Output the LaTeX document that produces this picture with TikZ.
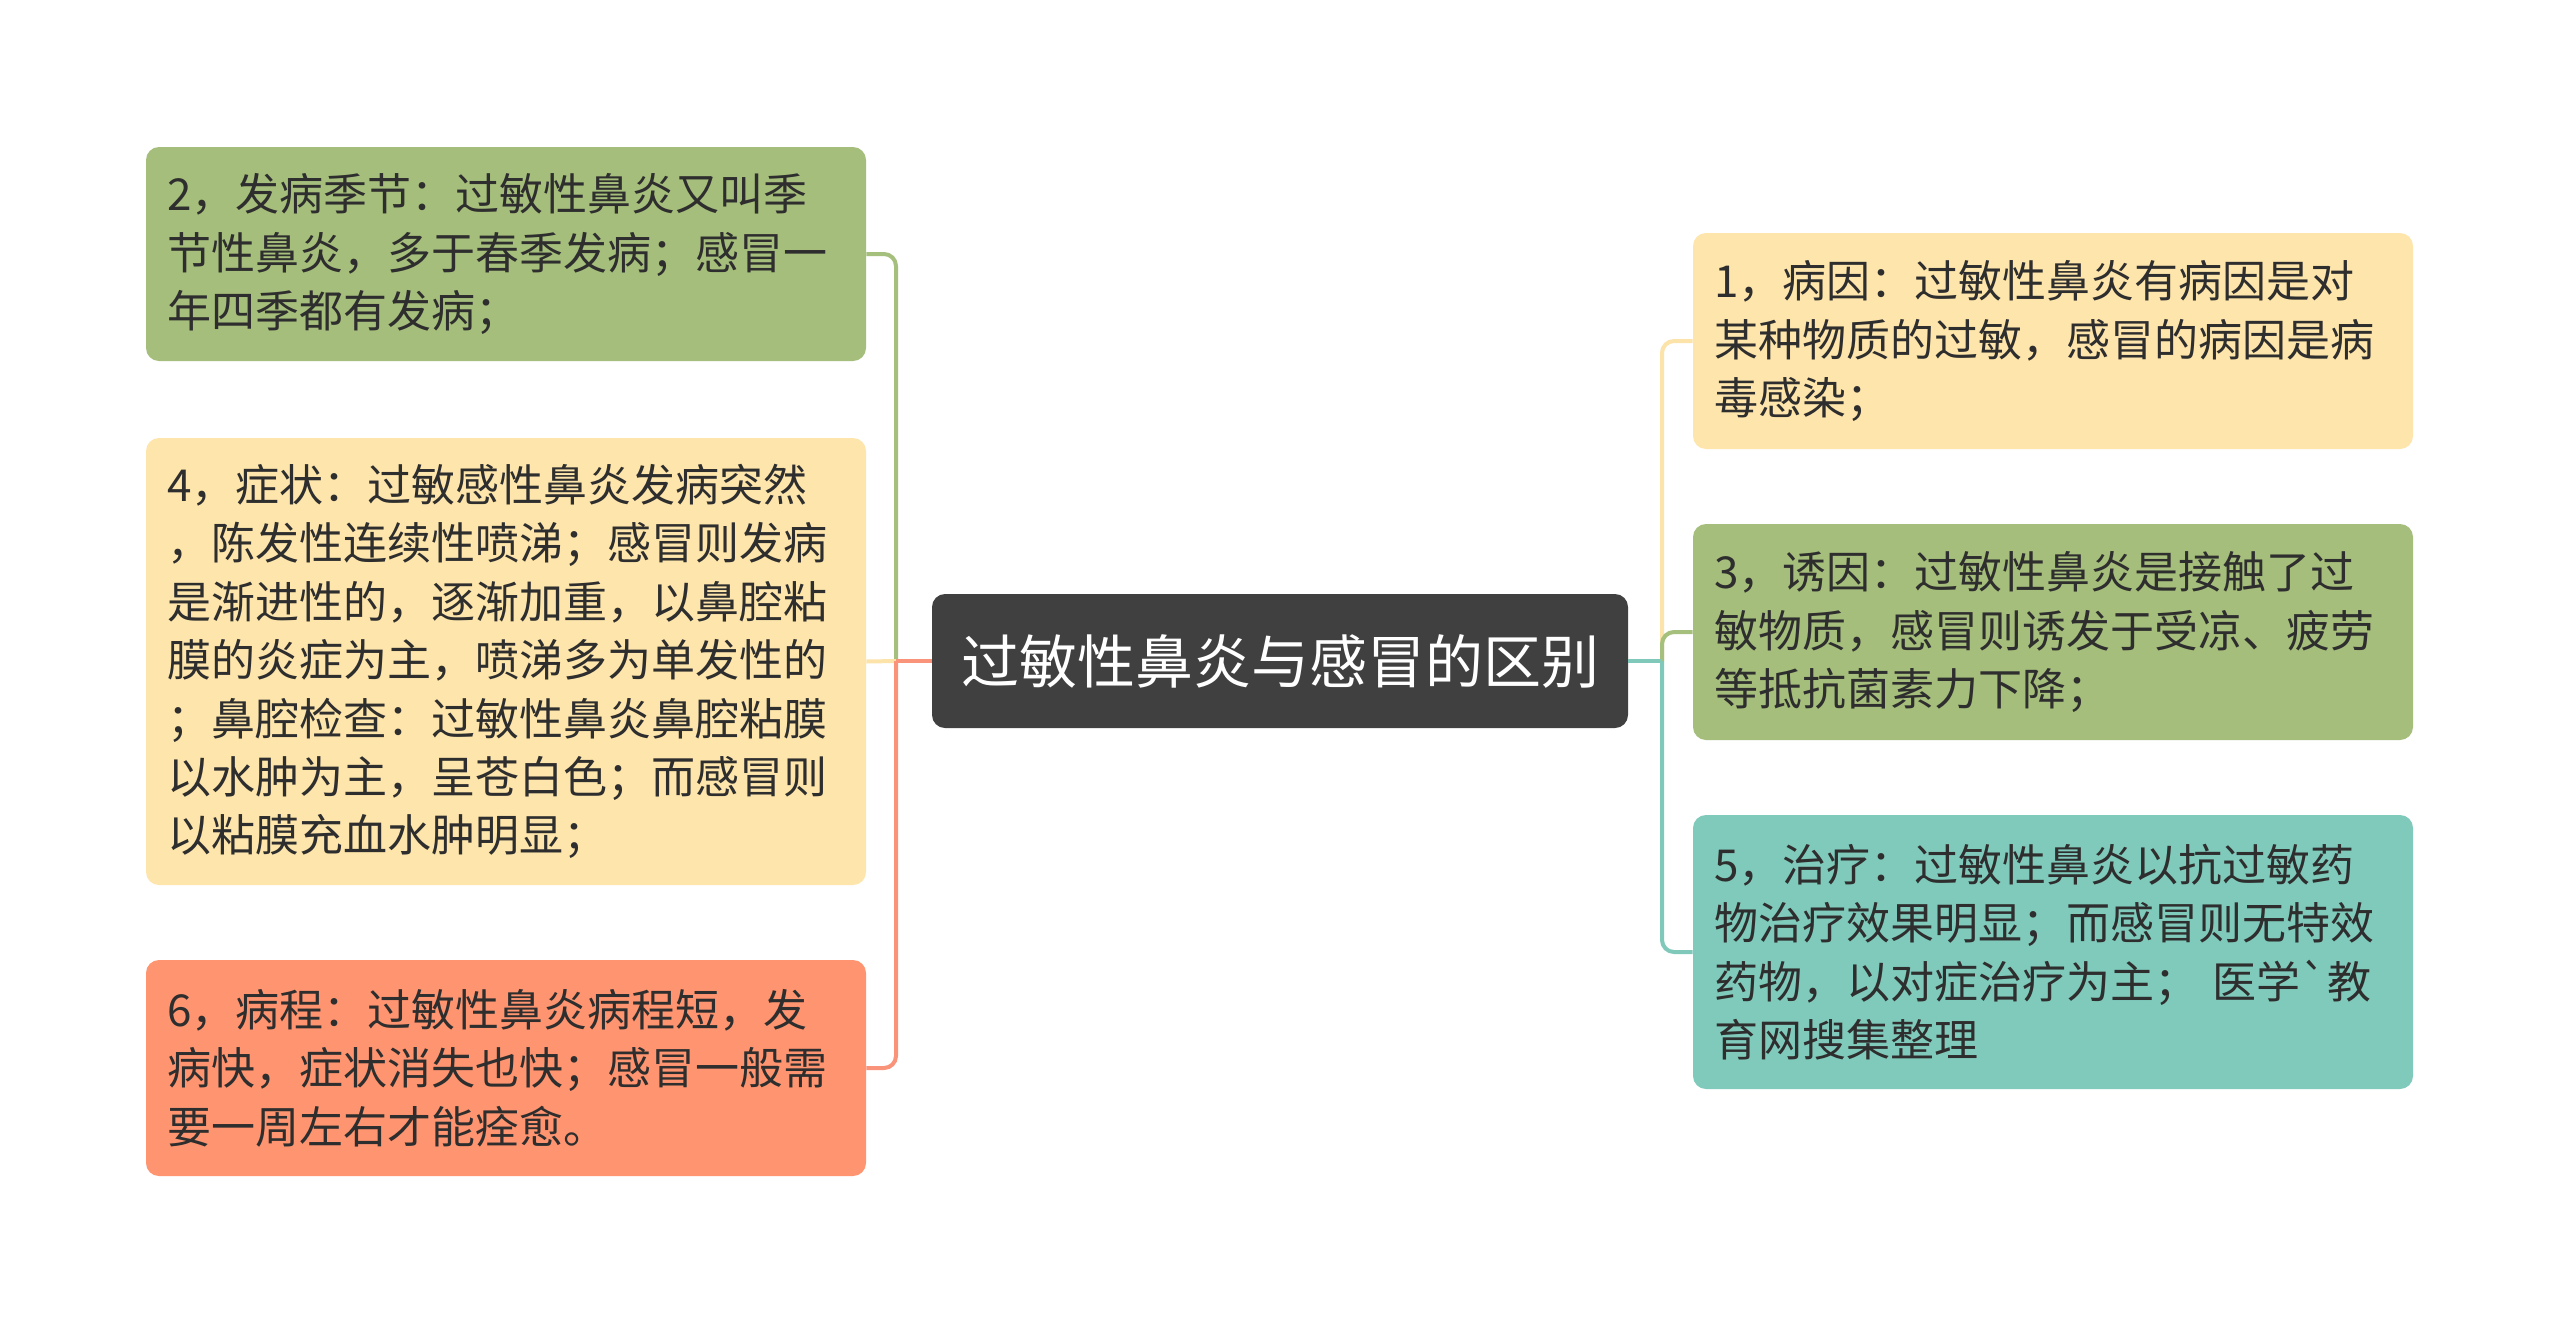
\documentclass[tikz,border=0pt]{standalone}
\usepackage{fontspec}
\newfontfamily\cjk{Noto Sans CJK SC}[Ligatures=TeXOff]
\definecolor{gfill}{HTML}{A5BE7B}
\definecolor{yfill}{HTML}{FDE5AB}
\definecolor{ofill}{HTML}{FE9470}
\definecolor{tfill}{HTML}{80CABC}
\definecolor{cfill}{HTML}{404040}
\definecolor{gline}{HTML}{A5BF7C}
\definecolor{yline}{HTML}{FCE3AA}
\definecolor{oline}{HTML}{F9937A}
\definecolor{tline}{HTML}{7FC8BA}
\definecolor{txt}{HTML}{2E2E2E}
\begin{document}
\begin{tikzpicture}[x=0.5pt,y=-0.5pt,
  leaf/.style={rounded corners=6.5pt, minimum width=360pt, text width=339pt,
    inner xsep=10.5pt, inner ysep=0pt, align=left, text=txt,
    font=\cjk\fontsize{22pt}{29.2pt}\selectfont},
  root/.style={rounded corners=6.5pt, fill=cfill, minimum width=348pt, minimum height=67pt,
    text=white, align=center, inner sep=0pt, font=\cjk\fontsize{29pt}{34pt}\selectfont},
  conn/.style={line width=2pt, rounded corners=6pt}]
\useasboundingbox (0,0) rectangle (2560,1323);
\fill[white] (0,0) rectangle (2560,1323);

\node[root] (c) at (1280,661) {过敏性鼻炎与感冒的区别};

\node[leaf, fill=gfill, minimum height=107pt] (b2) at (506,254)
  {2，发病季节：过敏性鼻炎又叫季\\节性鼻炎，多于春季发病；感冒一\\年四季都有发病；};
\node[leaf, fill=yfill, minimum height=223.5pt] (b4) at (506,661.5)
  {4，症状：过敏感性鼻炎发病突然\\，陈发性连续性喷涕；感冒则发病\\是渐进性的，逐渐加重，以鼻腔粘\\膜的炎症为主，喷涕多为单发性的\\；鼻腔检查：过敏性鼻炎鼻腔粘膜\\以水肿为主，呈苍白色；而感冒则\\以粘膜充血水肿明显；};
\node[leaf, fill=ofill, minimum height=108pt] (b6) at (506,1068)
  {6，病程：过敏性鼻炎病程短，发\\病快，症状消失也快；感冒一般需\\要一周左右才能痊愈。};

\node[leaf, fill=yfill, minimum height=108pt] (b1) at (2053,341)
  {1，病因：过敏性鼻炎有病因是对\\某种物质的过敏，感冒的病因是病\\毒感染；};
\node[leaf, fill=gfill, minimum height=108pt] (b3) at (2053,632)
  {3，诱因：过敏性鼻炎是接触了过\\敏物质，感冒则诱发于受凉、疲劳\\等抵抗菌素力下降；};
\node[leaf, fill=tfill, minimum height=137pt] (b5) at (2053,952)
  {5，治疗：过敏性鼻炎以抗过敏药\\物治疗效果明显；而感冒则无特效\\药物，以对症治疗为主； 医学`教\\育网搜集整理};

\coordinate (lt) at (896,661);
\coordinate (rt) at (1662,661);

\draw[conn, gline] (lt) |- (b2.east);
\draw[conn, yline] (lt) -- (b4.east);
\draw[conn, oline] (lt) |- (b6.east);
\draw[conn, oline] (c.west) -- (lt);

\draw[conn, yline] (rt) |- (b1.west);
\draw[conn, tline] (rt) |- (b5.west);
\draw[conn, gline] (rt) |- (b3.west);
\draw[conn, tline] (c.east) -- (rt);
\end{tikzpicture}
\end{document}
